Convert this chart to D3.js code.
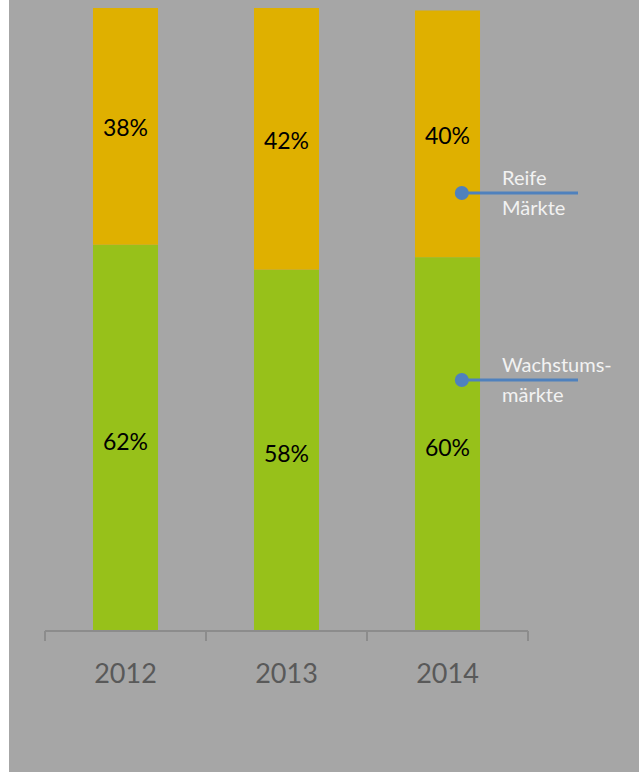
<!DOCTYPE html>
<html>
<head>
<meta charset="utf-8">
<script src="https://cdn.jsdelivr.net/npm/d3@7"></script>
<style>
  body { margin: 0; background: #ffffff; }
  svg { display: block; }
</style>
</head>
<body>
<div id="chart"></div>
<script>
const width = 639;
const height = 772;

// data
const years = ["2012", "2013", "2014"];
const wachstum = [62, 58, 60];     // green, bottom
const reife = [38, 42, 39.6];      // yellow, top
const wachstumLabels = ["62%", "58%", "60%"];
const reifeLabels = ["38%", "42%", "40%"];
const seriesNames = [["Reife", "Märkte"], ["Wachstums-", "märkte"]];

const colGreen = "#97c11a";
const colYellow = "#dfb000";

var svg = d3.select("#chart").append("svg")
  .attr("width", width)
  .attr("height", height);

// grey plot area, white strip on the left
svg.append("rect")
  .attr("x", 9).attr("y", 0)
  .attr("width", width - 9).attr("height", height)
  .attr("fill", "#a6a6a6");

const x = d3.scaleBand()
  .domain(years)
  .range([45, 528])
  .padding(0);

const y = d3.scaleLinear()
  .domain([0, 100])
  .range([631, 8]);

const barW = x.bandwidth() * 0.404;
const barX = d => x(d) + (x.bandwidth() - barW) / 2;

const rows = years.map((yr, i) => ({
  year: yr, g: wachstum[i], r: reife[i], gl: wachstumLabels[i], rl: reifeLabels[i]
}));

const bars = svg.append("g");

bars.selectAll("rect.g")
  .data(rows)
  .enter().append("rect")
  .attr("class", "g")
  .attr("x", d => barX(d.year))
  .attr("width", barW)
  .attr("y", d => y(d.g))
  .attr("height", d => y(0) - y(d.g))
  .attr("fill", colGreen);

bars.selectAll("rect.r")
  .data(rows)
  .enter().append("rect")
  .attr("class", "r")
  .attr("x", d => barX(d.year))
  .attr("width", barW)
  .attr("y", d => y(d.g + d.r))
  .attr("height", d => y(d.g) - y(d.g + d.r))
  .attr("fill", colYellow);

// value labels
const lblFont = "Lato, 'Open Sans', sans-serif";
bars.selectAll("text.gl")
  .data(rows)
  .enter().append("text")
  .attr("x", d => x(d.year) + x.bandwidth() / 2)
  .attr("y", d => (y(0) + y(d.g)) / 2 + 3)
  .attr("text-anchor", "middle")
  .attr("dominant-baseline", "central")
  .style("font-family", lblFont)
  .style("font-size", "23px")
  .attr("fill", "#000")
  .text(d => d.gl);

bars.selectAll("text.rl")
  .data(rows)
  .enter().append("text")
  .attr("x", d => x(d.year) + x.bandwidth() / 2)
  .attr("y", d => (y(d.g) + y(d.g + d.r)) / 2 + 1)
  .attr("text-anchor", "middle")
  .attr("dominant-baseline", "central")
  .style("font-family", lblFont)
  .style("font-size", "23px")
  .attr("fill", "#000")
  .text(d => d.rl);

// x axis: line with ticks at band edges
const axis = svg.append("g").attr("transform", "translate(0," + y(0) + ")");
const edges = years.map(d => x(d)).concat([x(years[years.length - 1]) + x.bandwidth()]);
axis.append("line")
  .attr("x1", edges[0]).attr("x2", edges[edges.length - 1])
  .attr("y1", 0).attr("y2", 0)
  .attr("stroke", "#8c8c8c").attr("stroke-width", 2);
axis.selectAll("line.tick")
  .data(edges)
  .enter().append("line")
  .attr("x1", d => d).attr("x2", d => d)
  .attr("y1", 0).attr("y2", 10)
  .attr("stroke", "#8c8c8c").attr("stroke-width", 2);
axis.selectAll("text")
  .data(years)
  .enter().append("text")
  .attr("x", d => x(d) + x.bandwidth() / 2)
  .attr("y", 41)
  .attr("text-anchor", "middle")
  .attr("dominant-baseline", "central")
  .style("font-family", lblFont)
  .style("font-size", "27px")
  .attr("fill", "#595959")
  .text(d => d);

// series callouts on the last bar
const last = years[years.length - 1];
const calloutVals = [70.3, 40.3];   // value-axis height of each callout dot
const dotX = barX(last) + barW * 0.72;
const callouts = svg.append("g");
calloutVals.forEach(function(v, i) {
  const cy = y(v);
  callouts.append("line")
    .attr("x1", dotX).attr("x2", 578)
    .attr("y1", cy).attr("y2", cy)
    .attr("stroke", "#4f81bd").attr("stroke-width", 3);
  callouts.append("circle")
    .attr("cx", dotX).attr("cy", cy).attr("r", 7)
    .attr("fill", "#4f81bd");
  const t = callouts.append("text")
    .attr("x", 502)
    .attr("y", cy - 8)
    .style("font-family", lblFont)
    .style("font-size", "20px")
    .attr("fill", "#f2f2f2");
  seriesNames[i].forEach(function(s, j) {
    t.append("tspan")
      .attr("x", 502)
      .attr("dy", j === 0 ? 0 : 30)
      .text(s);
  });
});
</script>
</body>
</html>
